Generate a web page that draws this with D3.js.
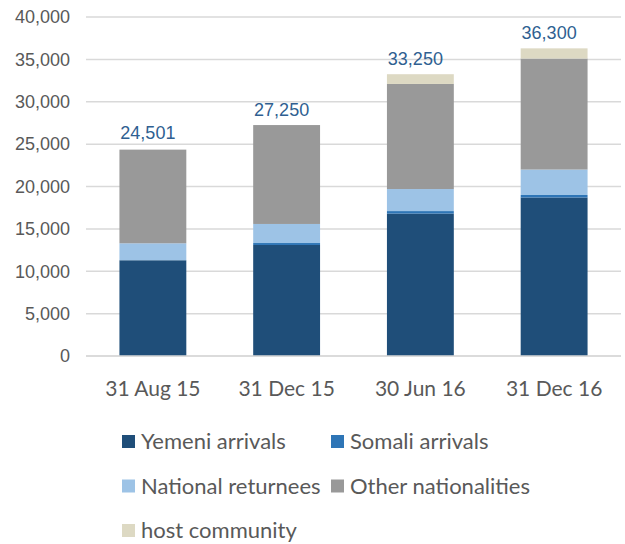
<!DOCTYPE html>
<html>
<head>
<meta charset="utf-8">
<script src="https://cdn.jsdelivr.net/npm/d3@7"></script>
<style>
  body { margin: 0; background: #fff; }
  svg { display: block; }
</style>
</head>
<body>
<div id="chart"></div>
<script>
let width = 625;
let height = 544;
let margin = ({top: 17, right: 4, bottom: 188, left: 86});

// dates on the x axis
let dates = ["31 Aug 15", "31 Dec 15", "30 Jun 16", "31 Dec 16"];

// series values
let yemeni = [11300, 13100, 16800, 18700];
let somali = [0, 230, 300, 300];
let returnees = [2000, 2250, 2600, 3000];
let others = [11050, 11670, 12400, 13100];
let host = [0, 0, 1150, 1200];

// totals written above the bars
let totals = [24501, 27250, 33250, 36300];

let yTicks = [0, 5000, 10000, 15000, 20000, 25000, 30000, 35000, 40000];

let seriesNames = ["Yemeni arrivals", "Somali arrivals", "National returnees", "Other nationalities", "host community"];
let seriesValues = [yemeni, somali, returnees, others, host];

let colors = d3.scaleOrdinal()
    .domain(seriesNames)
    .range(["#1F4E79", "#2E75B6", "#9DC3E6", "#999999", "#DDD9C3"]);

// table for d3.stack
let table = dates.map(function(d, i) {
    let row = {date: d};
    seriesNames.forEach(function(s, j) { row[s] = seriesValues[j][i]; });
    return row;
});

let stacked = d3.stack().keys(seriesNames)(table);

let svg = d3.select("#chart")
    .append("svg")
    .attr("width", width)
    .attr("height", height);

let xScale = d3.scaleBand()
    .domain(dates)
    .range([margin.left, width - margin.right])
    .paddingInner(0.5)
    .paddingOuter(0.25);

let yScale = d3.scaleLinear()
    .domain([0, 40000])
    .range([height - margin.bottom, margin.top]);

// gridlines
svg.append("g")
    .selectAll("line")
    .data(yTicks)
    .enter()
    .append("line")
    .attr("x1", margin.left)
    .attr("x2", width - margin.right)
    .attr("y1", function(d) { return yScale(d); })
    .attr("y2", function(d) { return yScale(d); })
    .attr("stroke", "#D9D9D9")
    .attr("stroke-width", 1.5);

// y axis labels
let yAxis = d3.axisLeft(yScale)
    .tickValues(yTicks)
    .tickFormat(d3.format(","))
    .tickSize(0)
    .tickPadding(16);

svg.append("g")
    .attr("transform", "translate(" + margin.left + ",0)")
    .call(yAxis)
    .call(function(g) { g.select(".domain").remove(); })
    .selectAll("text")
    .attr("fill", "#595959")
    .style("font-family", "'Liberation Sans', Arial, sans-serif")
    .style("font-size", "18px");

// stacked bars
svg.append("g")
    .selectAll("g")
    .data(stacked)
    .enter()
    .append("g")
    .attr("fill", function(d) { return colors(d.key); })
    .selectAll("rect")
    .data(function(d) { return d; })
    .enter()
    .append("rect")
    .attr("x", function(d) { return xScale(d.data.date); })
    .attr("width", xScale.bandwidth())
    .attr("y", function(d) { return yScale(d[1]); })
    .attr("height", function(d) { return yScale(d[0]) - yScale(d[1]); });

// x axis line
svg.append("line")
    .attr("x1", margin.left)
    .attr("x2", width - margin.right)
    .attr("y1", yScale(0))
    .attr("y2", yScale(0))
    .attr("stroke", "#D9D9D9")
    .attr("stroke-width", 1.5);

// x axis labels
let xAxis = d3.axisBottom(xScale)
    .tickSize(0)
    .tickPadding(25);

svg.append("g")
    .attr("transform", "translate(0," + yScale(0) + ")")
    .call(xAxis)
    .call(function(g) { g.select(".domain").remove(); })
    .selectAll("text")
    .attr("fill", "#595959")
    .style("font-family", "Lato, 'Open Sans', sans-serif")
    .style("font-size", "21px");

// total labels
svg.append("g")
    .selectAll("text")
    .data(totals)
    .enter()
    .append("text")
    .attr("x", function(d, i) { return xScale(dates[i]) + xScale.bandwidth() / 2 - 5; })
    .attr("y", function(d) { return yScale(d) - 9; })
    .attr("text-anchor", "middle")
    .attr("fill", "#2F5F91")
    .style("font-family", "'Liberation Sans', Arial, sans-serif")
    .style("font-size", "18px")
    .text(function(d) { return d3.format(",")(d); });

// legend
let legend = svg.append("g")
    .selectAll("g")
    .data(seriesNames)
    .enter()
    .append("g")
    .attr("transform", function(d, i) {
        let col = i % 2;
        let row = Math.floor(i / 2);
        return "translate(" + (122 + col * 209) + "," + (449 + row * 44.5) + ")";
    });

legend.append("rect")
    .attr("x", 0)
    .attr("y", -14)
    .attr("width", 13)
    .attr("height", 13)
    .attr("fill", function(d) { return colors(d); });

legend.append("text")
    .attr("x", 19)
    .attr("y", 0)
    .attr("fill", "#595959")
    .style("font-family", "Lato, 'Open Sans', sans-serif")
    .style("font-size", "22px")
    .text(function(d) { return d; });
</script>
</body>
</html>
